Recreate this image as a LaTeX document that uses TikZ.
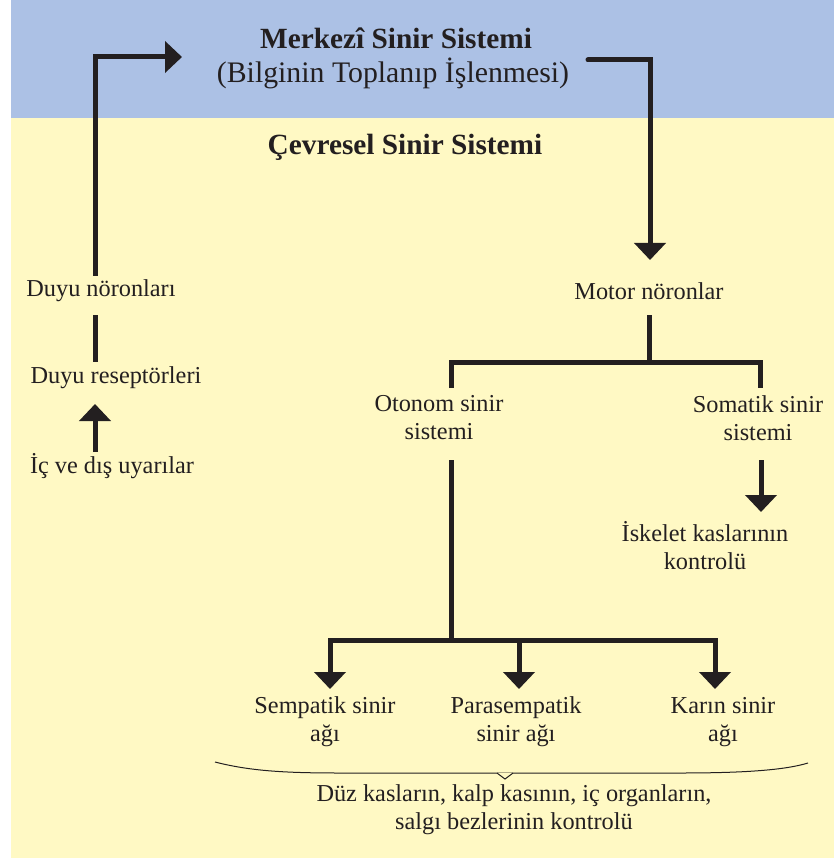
\documentclass[tikz,border=0pt]{standalone}
\usepackage{fontspec}
\setmainfont{Liberation Serif}
\usetikzlibrary{arrows.meta}
\definecolor{topblue}{RGB}{172,193,229}
\definecolor{bgyellow}{RGB}{255,249,196}
\definecolor{ink}{RGB}{35,31,32}
\begin{document}
\begin{tikzpicture}[x=1pt,y=-1pt,
  lbl/.style={align=center,font=\fontsize{24.3}{28}\selectfont,text=ink,inner sep=0pt},
  sub/.style={align=center,font=\fontsize{29.8}{32}\selectfont,text=ink,inner sep=0pt},
  ttl/.style={align=center,font=\fontsize{29.3}{32}\selectfont\bfseries,text=ink,inner sep=0pt},
  conn/.style={draw=ink,line width=5pt,line join=miter},
  arr/.style={conn,-{Triangle[length=17pt,width=31pt]}},
  brace/.style={draw=ink,line width=1pt}]
\useasboundingbox (0,0) rectangle (834,858);
\fill[bgyellow] (11,118) rectangle (834,858);
\fill[topblue] (11,0) rectangle (834,118);

\node[ttl] (mss) at (396,38) {Merkezî Sinir Sistemi};
\node[sub] (bilgi) at (393,73) {(Bilginin Toplanıp İşlenmesi)};
\node[ttl] (css) at (405,147) {Çevresel Sinir Sistemi};
\node[lbl] (dn) at (101,291) {Duyu nöronları};
\node[lbl] (dr) at (116,378) {Duyu reseptörleri};
\node[lbl] (uy) at (112,466) {İç ve dış uyarılar};
\node[lbl] (mn) at (649,291) {Motor nöronlar};
\node[lbl] (os) at (439,418) {Otonom sinir\\sistemi};
\node[lbl] (ss) at (758,418) {Somatik sinir\\sistemi};
\node[lbl] (ik) at (705,546) {İskelet kaslarının\\kontrolü};
\node[lbl] (sa) at (325,722) {Sempatik sinir\\ağı};
\node[lbl] (pa) at (516,722) {Parasempatik\\sinir ağı};
\node[lbl] (ka) at (723,722) {Karın sinir\\ağı};
\node[lbl] (dz) at (514,810) {Düz kasların, kalp kasının, iç organların,\\salgı bezlerinin kontrolü};

% named end points
\coordinate (dnTop) at (95,276);
\coordinate (mssIn) at (182,57);
\coordinate (bilgiOut) at (588,60);
\coordinate (mnIn) at (650,260);
\coordinate (dnBot) at (95,315);
\coordinate (drTop) at (95,362);
\coordinate (drBot) at (95,404);
\coordinate (uyTop) at (95,452);
\coordinate (mnBot) at (649,315);
\coordinate (mnFork) at (649,362);
\coordinate (osTop) at (451,388);
\coordinate (ssTop) at (760,388);
\coordinate (osBot) at (451,460);
\coordinate (osFork) at (451,640);
\coordinate (ssBot) at (761,460);
\coordinate (ikTop) at (761,512);
\coordinate (saTop) at (330,689);
\coordinate (paTop) at (519,689);
\coordinate (kaTop) at (715,689);

\draw[arr] (dnTop) |- (mssIn);
\draw[arr,line cap=round] (bilgiOut) -| (mnIn);
\draw[conn] (dnBot) -- (drTop);
\draw[arr] (uyTop) -- (drBot);
\draw[conn] (mnBot) -- (mnFork);
\draw[conn] (osTop) |- (mnFork) -| (ssTop);
\draw[arr] (ssBot) -- (ikTop);
\draw[conn] (osBot) -- (osFork);
\draw[arr] (osFork) -| (saTop);
\draw[arr] (osFork) -| (kaTop);
\draw[arr] (paTop |- osFork) -- (paTop);

% brace under the three nerve networks
\draw[brace] (215,762) .. controls (250,771) and (285,773) .. (340,773) -- (680,773)
  .. controls (745,773) and (785,770) .. (808,763);
\draw[brace,fill=bgyellow,line join=miter] (497,773) -- (505,779) -- (513,773);
\end{tikzpicture}
\end{document}
